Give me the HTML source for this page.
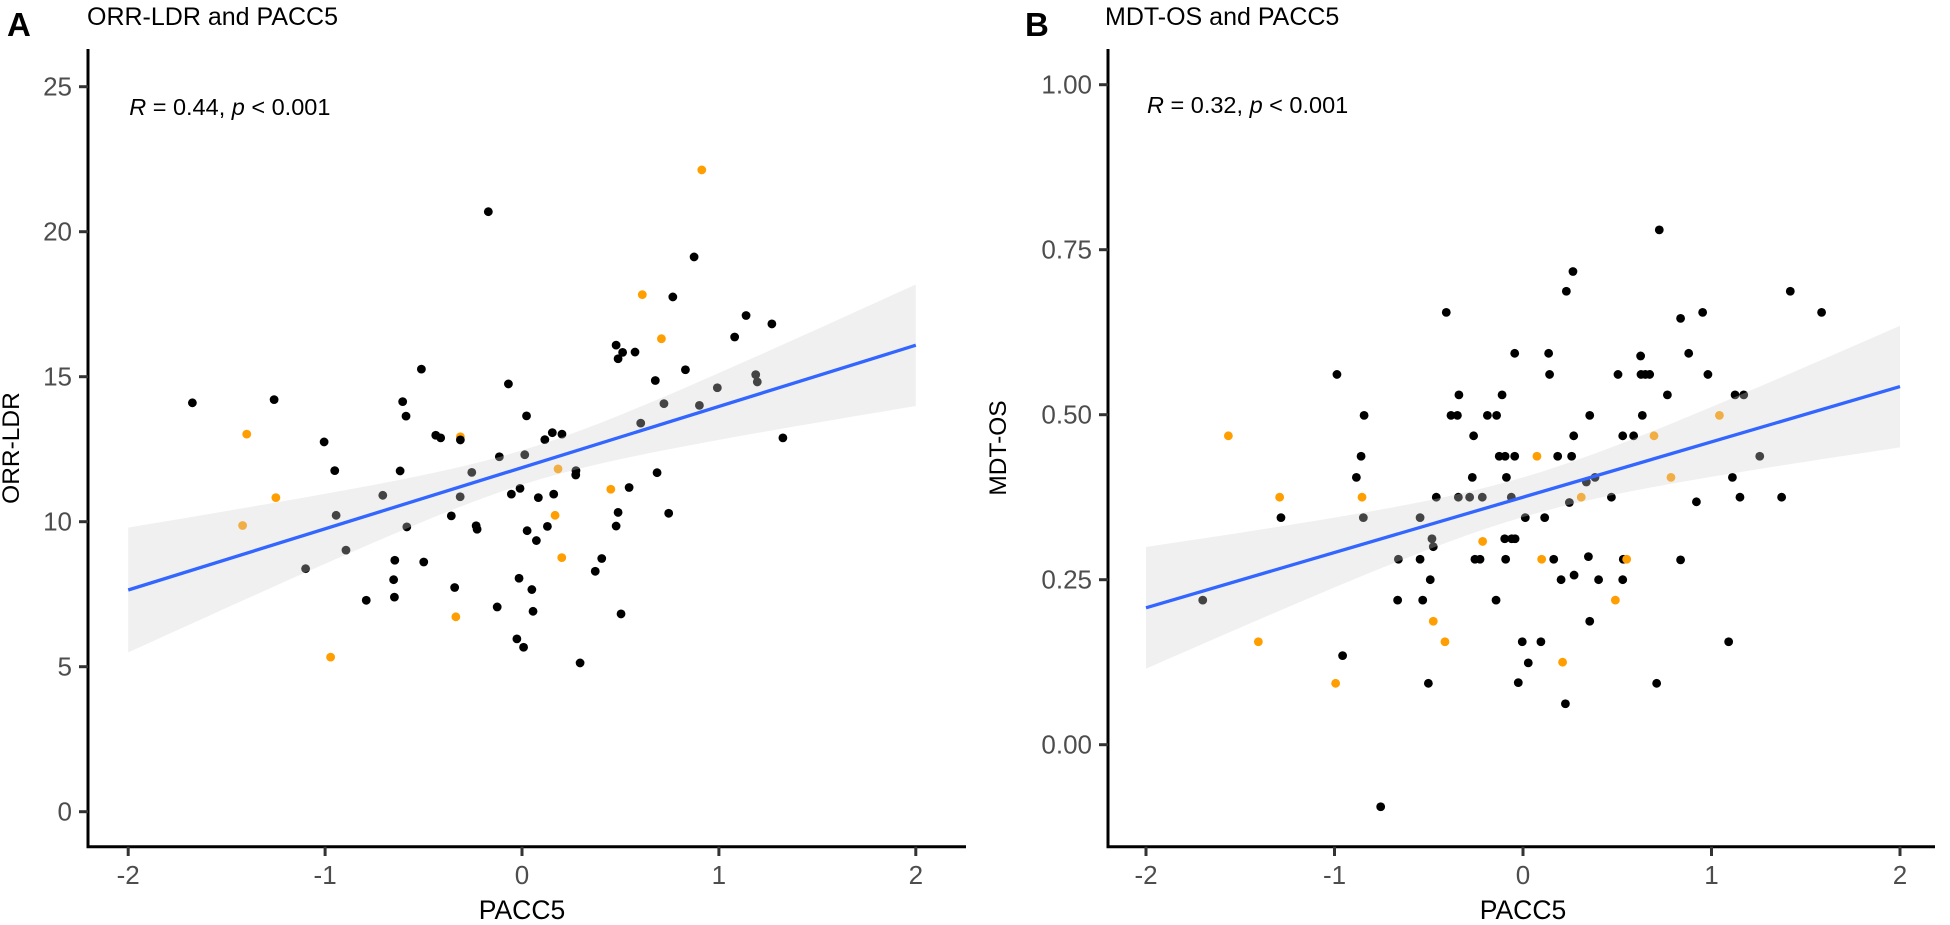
<!DOCTYPE html>
<html>
<head>
<meta charset="utf-8">
<style>
  html,body{margin:0;padding:0;background:#fff;}
  svg{display:block;font-family:"Liberation Sans",Arial,sans-serif;}
</style>
</head>
<body>
<svg id="chart" width="1950" height="925" viewBox="0 0 1950 925" xmlns="http://www.w3.org/2000/svg">
  <g id="panelA"></g>
  <g id="panelB"></g>
</svg>
<script>
// ---------- Panel A data: ORR-LDR vs PACC5 ----------
const aX = [0.913,-0.171,0.874,0.611,0.766,1.138,0.708,1.080,0.478,0.511,0.488,0.574,-0.511,0.830,0.677,-0.069,1.187,1.195,0.992,-0.606,-0.589,0.721,0.901,0.023,0.603,-0.438,-0.413,-0.313,-0.313,0.116,0.154,0.203,-0.115,0.014,-0.619,-0.255,0.183,0.274,0.273,0.686,0.451,0.544,-0.314,-0.054,-0.010,0.083,0.161,-0.359,0.168,0.488,0.745,-0.585,-0.233,-0.228,0.026,0.129,0.478,0.073,-1.674,-1.259,-1.398,-1.005,-0.951,-1.250,-0.707,-0.944,-1.419,1.269,1.325,-0.894,-1.099,-0.646,-0.499,-0.652,-0.791,-0.648,-0.342,-0.336,-0.126,-0.015,0.050,0.056,0.202,0.405,0.372,0.503,-0.026,0.008,0.295,-0.972];
const aY = [22.13,20.69,19.13,17.83,17.75,17.11,16.31,16.37,16.09,15.84,15.62,15.85,15.26,15.24,14.87,14.75,15.07,14.82,14.62,14.14,13.64,14.07,14.01,13.65,13.40,12.98,12.89,12.93,12.82,12.83,13.07,13.02,12.24,12.31,11.75,11.70,11.82,11.76,11.61,11.69,11.12,11.18,10.86,10.95,11.15,10.83,10.95,10.20,10.22,10.32,10.29,9.82,9.86,9.74,9.69,9.84,9.85,9.35,14.10,14.21,13.02,12.75,11.76,10.83,10.91,10.22,9.87,16.82,12.89,9.02,8.38,8.67,8.61,8.00,7.29,7.40,7.73,6.72,7.06,8.05,7.66,6.91,8.76,8.73,8.29,6.82,5.96,5.67,5.13,5.33];
const aGrp = ["o","b","b","o","b","b","o","b","b","b","b","b","b","b","b","b","b","b","b","b","b","b","b","b","b","b","b","o","b","b","b","b","b","b","b","b","o","b","b","b","o","b","b","b","b","b","b","b","o","b","b","b","b","b","b","b","b","b","b","b","o","b","b","o","b","b","o","b","b","b","b","b","b","b","b","b","b","o","b","b","b","b","o","b","b","b","b","b","b","o"];
const aFit = [11.865, 2.11];          // intercept, slope
const aBand = [0.35, 1.04, 0.03];     // variance terms a, b, centre x0
const aXTicks = [-2,-1,0,1,2];
const aYTicks = [0,5,10,15,20,25];
const aYLabels = ["0","5","10","15","20","25"];

// ---------- Panel B data: MDT-OS vs PACC5 ----------
const bX = [-1.699,-1.563,-1.291,-1.284,-1.404,-0.987,-0.843,-0.859,-0.884,-0.854,-0.847,-0.957,-0.994,-0.755,-0.407,-0.340,-0.382,-0.348,-0.262,-0.269,-0.460,-0.343,-0.283,-0.546,-0.661,-0.546,-0.483,-0.476,-0.492,-0.665,-0.532,-0.476,-0.414,-0.502,
 0.723,0.265,0.230,1.418,0.836,0.953,1.584,-0.044,0.136,0.624,0.879,0.141,0.504,0.626,0.649,0.672,0.981,-0.111,0.766,1.125,1.171,-0.189,-0.140,0.354,0.633,1.042,0.269,0.529,0.587,0.695,-0.126,-0.095,-0.044,0.074,0.184,0.258,1.256,-0.088,0.336,0.382,0.785,1.111,-0.216,-0.062,0.309,0.469,0.246,0.920,1.151,1.372,0.012,0.115,-0.214,-0.097,-0.060,-0.042,-0.255,-0.228,-0.092,0.099,0.163,0.347,0.532,0.550,0.836,0.202,0.271,0.401,0.529,-0.143,0.490,0.354,-0.004,0.095,1.091,0.028,0.210,-0.025,0.709,0.225];
const bY = [0.219,0.468,0.375,0.344,0.156,0.561,0.499,0.437,0.405,0.375,0.344,0.135,0.093,-0.094,0.655,0.530,0.499,0.499,0.468,0.405,0.375,0.375,0.375,0.344,0.281,0.281,0.312,0.300,0.250,0.219,0.219,0.187,0.156,0.093,
 0.780,0.717,0.687,0.687,0.646,0.655,0.655,0.593,0.593,0.589,0.593,0.561,0.561,0.561,0.561,0.561,0.561,0.530,0.530,0.530,0.530,0.499,0.499,0.499,0.499,0.499,0.468,0.468,0.468,0.468,0.437,0.437,0.437,0.437,0.437,0.437,0.437,0.405,0.398,0.405,0.405,0.405,0.375,0.375,0.375,0.375,0.367,0.368,0.375,0.375,0.344,0.344,0.308,0.312,0.312,0.312,0.281,0.281,0.281,0.281,0.281,0.285,0.281,0.281,0.280,0.250,0.257,0.250,0.250,0.219,0.219,0.187,0.156,0.156,0.156,0.124,0.125,0.094,0.093,0.062];
const bGrp = ["b","o","o","b","o","b","b","b","b","o","b","b","o","b","b","b","b","b","b","b","b","b","b","b","b","b","b","b","b","b","b","o","o","b",
 "b","b","b","b","b","b","b","b","b","b","b","b","b","b","b","b","b","b","b","b","b","b","b","b","b","o","b","b","b","o","b","b","b","o","b","b","b","b","b","b","o","b","b","b","o","b","b","b","b","b","b","b","o","b","b","b","b","b","b","o","b","b","b","o","b","b","b","b","b","b","o","b","b","b","b","b","o","b","b","b"];
const bFit = [0.375, 0.0838];
const bBand = [0.0009, 0.0019, 0.0];
const bXTicks = [-2,-1,0,1,2];
const bYTicks = [0,0.25,0.5,0.75,1];
const bYLabels = ["0.00","0.25","0.50","0.75","1.00"];

const NS = "http://www.w3.org/2000/svg";
function mk(tag, attrs, parent){
  const e = document.createElementNS(NS, tag);
  for (const k in attrs) e.setAttribute(k, attrs[k]);
  parent.appendChild(e);
  return e;
}
const ORANGE = "#ff9e00";

function drawPanel(g, cfg){
  const sx = v => cfg.x0 + cfg.xs * v;
  const sy = v => cfg.y0 - cfg.ys * v;
  for (let i = 0; i < cfg.xs_.length; i++){
    const c = mk("circle", {cx: sx(cfg.xs_[i]), cy: sy(cfg.ys_[i]), r: 4.4, fill: cfg.grp[i] === "o" ? ORANGE : "#000"}, g);
    
    
  }
  const fit = v => cfg.fit[0] + cfg.fit[1] * v;
  const half = v => Math.sqrt(cfg.band[0] + cfg.band[1] * (v - cfg.band[2]) * (v - cfg.band[2]));
  let top = [], bot = [];
  for (let k = 0; k <= 40; k++){
    const v = -2 + 4 * k / 40;
    top.push(sx(v).toFixed(1) + "," + sy(fit(v) + half(v)).toFixed(1));
    bot.unshift(sx(v).toFixed(1) + "," + sy(fit(v) - half(v)).toFixed(1));
  }
  const band = mk("polygon", {points: top.concat(bot).join(" "), fill: "rgb(209,209,209)", "fill-opacity": 0.326}, g);
  
  
  const line = mk("line", {x1: sx(-2), y1: sy(fit(-2)), x2: sx(2), y2: sy(fit(2)), stroke: "#3366ff", "stroke-width": 3.3}, g);
  
  
  const ya = mk("line", {x1: cfg.axX, y1: 49, x2: cfg.axX, y2: 848, stroke: "#000", "stroke-width": 3}, g);
  
  
  const xa = mk("line", {x1: cfg.axX - 1.5, y1: 846.7, x2: cfg.axEnd, y2: 846.7, stroke: "#000", "stroke-width": 3}, g);
  
  
  cfg.yt.forEach((v, i) => {
    const t = mk("line", {x1: cfg.axX - 9, y1: sy(v), x2: cfg.axX, y2: sy(v), stroke: "#333", "stroke-width": 3}, g);
    
    
    const l = mk("text", {x: cfg.axX - 16, y: sy(v) + 9, "text-anchor": "end", "font-size": 26, fill: "#4d4d4d"}, g);
    l.textContent = cfg.yl[i];
    
    
  });
  cfg.xt.forEach(v => {
    const t = mk("line", {x1: sx(v), y1: 846.7, x2: sx(v), y2: 856, stroke: "#333", "stroke-width": 3}, g);
    
    
    const l = mk("text", {x: sx(v), y: 884, "text-anchor": "middle", "font-size": 26, fill: "#4d4d4d"}, g);
    l.textContent = v < 0 ? "-" + Math.abs(v) : String(v);
    
    
  });
  const xt = mk("text", {x: sx(0), y: 919, "text-anchor": "middle", "font-size": 26.5, fill: "#000"}, g);
  xt.textContent = "PACC5";
  
  
  const yt = mk("text", {x: 0, y: 0, "text-anchor": "middle", "font-size": 24.5, fill: "#000", transform: "translate(" + cfg.ytX + ",448) rotate(-90)"}, g);
  yt.textContent = cfg.ytitle;
  
  
  const pl = mk("text", {x: cfg.letterX, y: 36, "font-size": 33, "font-weight": "bold", fill: "#000"}, g);
  pl.textContent = cfg.letter;
  
  
  const ti = mk("text", {x: cfg.titleX, y: 25, "font-size": 25, fill: "#000"}, g);
  ti.textContent = cfg.title;
  
  
  const an = mk("text", {x: sx(-2) + 1, y: cfg.annY, "font-size": 23.5, fill: "#000"}, g);
  an.innerHTML = '<tspan font-style="italic">R</tspan> = ' + cfg.r + ', <tspan font-style="italic">p</tspan> &lt; 0.001';
  
  
}

drawPanel(document.getElementById("panelA"), {
  x0: 522, xs: 196.9, y0: 811.7, ys: 29,
  xs_: aX, ys_: aY, grp: aGrp, fit: aFit, band: aBand,
  xt: aXTicks, yt: aYTicks, yl: aYLabels,
  axX: 88, axEnd: 966, ytX: 19, ytitle: "ORR-LDR",
  letter: "A", letterX: 7, title: "ORR-LDR and PACC5", titleX: 87, annY: 115, r: "0.44"
});
drawPanel(document.getElementById("panelB"), {
  x0: 1523, xs: 188.5, y0: 744.7, ys: 660,
  xs_: bX, ys_: bY, grp: bGrp, fit: bFit, band: bBand,
  xt: bXTicks, yt: bYTicks, yl: bYLabels,
  axX: 1108, axEnd: 1935, ytX: 1006, ytitle: "MDT-OS",
  letter: "B", letterX: 1025, title: "MDT-OS and PACC5", titleX: 1105, annY: 113, r: "0.32"
});
</script>
</body>
</html>
